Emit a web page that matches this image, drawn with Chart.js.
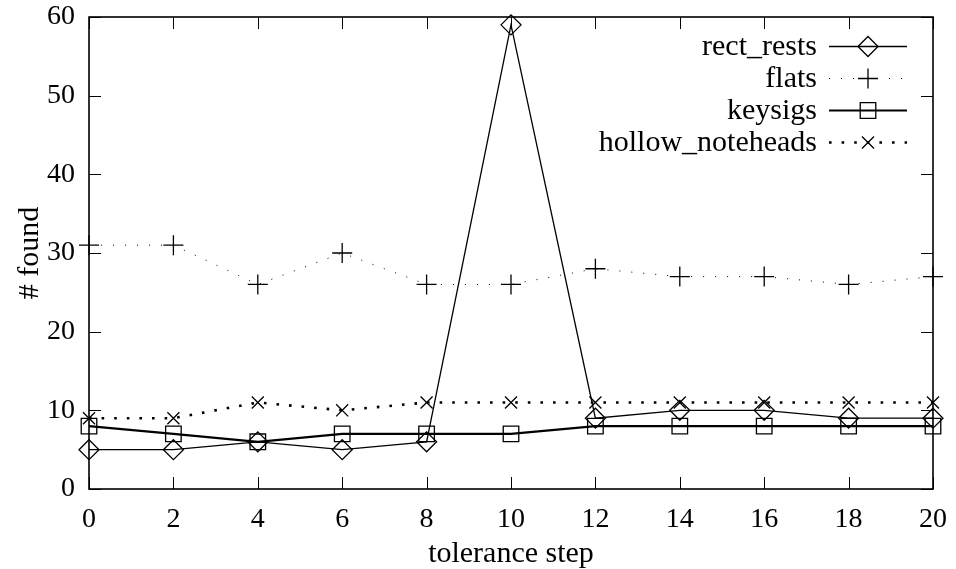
<!DOCTYPE html>
<html>
<head>
<meta charset="utf-8">
<script src="https://cdn.jsdelivr.net/npm/chart.js@4/dist/chart.umd.min.js"></script>
<style>
  html, body { margin: 0; padding: 0; background: #fff; }
  #wrap { width: 956px; height: 569px; }
</style>
</head>
<body>
<div id="wrap"><canvas id="foundChart" width="956" height="569"></canvas></div>
<script>
// tolerance step vs. number of symbols found

const STEPS            = [0, 2, 4, 6, 8, 10, 12, 14, 16, 18, 20];
const RECT_RESTS       = [5, 5, 6, 5, 6, 59, 9, 10, 10, 9, 9];
const FLATS            = [31, 31, 26, 30, 26, 26, 28, 27, 27, 26, 27];
const KEYSIGS          = [8, 7, 6, 7, 7, 7, 8, 8, 8, 8, 8];
const HOLLOW_NOTEHEADS = [9, 9, 11, 10, 11, 11, 11, 11, 11, 11, 11];

const X_TICKS = [0, 2, 4, 6, 8, 10, 12, 14, 16, 18, 20];
const Y_TICKS = [0, 10, 20, 30, 40, 50, 60];

const SERIF = "'Liberation Serif', 'DejaVu Serif', serif";

// line + marker look per series
const STYLES = {
    rect_rests:       { width: 1.3, dash: [],        marker: "rectRot",  radius: 10 },
    flats:            { width: 1,   dash: [1, 11],   marker: "cross",    radius: 10 },
    keysigs:          { width: 2.2, dash: [],        marker: "rect",     radius: 11 },
    hollow_noteheads: { width: 2.6, dash: [2.6, 10], marker: "crossRot", radius: 8.5 },
};

function toPoints(values) {
    return STEPS.map((s, i) => ({ x: s, y: values[i] }));
}

function makeDataset(label, values) {
    const st = STYLES[label];
    return {
        label,
        data:                 toPoints(values),
        borderColor:          "#000",
        backgroundColor:      "transparent",
        borderWidth:          st.width,
        borderDash:           st.dash,
        pointStyle:           st.marker,
        pointRadius:          st.radius,
        pointHoverRadius:     st.radius,
        pointBorderWidth:     1.3,
        pointBorderColor:     "#000",
        pointBackgroundColor: "transparent",
        tension:              0,
        fill:                 false,
        clip:                 false,
    };
}

// box around the plot with inward ticks on every side
const frameTicks = {
    id: "frameTicks",
    afterDatasetsDraw(chart) {
        const { ctx, chartArea: a, scales } = chart;
        const len = 12;
        ctx.save();
        ctx.strokeStyle = "#000";
        ctx.lineWidth = 1;
        ctx.beginPath();
        X_TICKS.forEach(v => {
            const px = Math.round(scales.x.getPixelForValue(v)) + 0.5;
            ctx.moveTo(px, a.bottom); ctx.lineTo(px, a.bottom - len);
            ctx.moveTo(px, a.top);    ctx.lineTo(px, a.top + len);
        });
        Y_TICKS.forEach(v => {
            const py = Math.round(scales.y.getPixelForValue(v)) + 0.5;
            ctx.moveTo(a.left, py);  ctx.lineTo(a.left + len, py);
            ctx.moveTo(a.right, py); ctx.lineTo(a.right - len, py);
        });
        ctx.stroke();
        ctx.lineWidth = 1.6;
        ctx.strokeRect(a.left, a.top, a.right - a.left, a.bottom - a.top);
        ctx.restore();
    }
};

// key in the upper right: text, then a sample of the line with its marker
const sideKey = {
    id: "sideKey",
    afterDraw(chart) {
        const { ctx } = chart;
        const textRight = 817, lineFrom = 829, lineTo = 907, mark = 868;
        const rows = [46, 78, 110, 142];
        ctx.save();
        ctx.font = "30px " + SERIF;
        ctx.textAlign = "right";
        ctx.textBaseline = "middle";
        chart.data.datasets.forEach((ds, i) => {
            const y = rows[i];
            const st = STYLES[ds.label];
            ctx.fillStyle = "#000";
            ctx.fillText(ds.label, textRight, y + 1);
            ctx.strokeStyle = "#000";
            ctx.lineWidth = st.width;
            ctx.setLineDash(st.dash);
            ctx.beginPath();
            ctx.moveTo(lineFrom, y + 0.5);
            ctx.lineTo(lineTo, y + 0.5);
            ctx.stroke();
            ctx.setLineDash([]);
            ctx.lineWidth = 1.3;
            ctx.fillStyle = "rgba(0,0,0,0)";
            Chart.helpers.drawPoint(ctx, {
                pointStyle: st.marker, radius: st.radius, borderWidth: 1.3, rotation: 0
            }, mark, y + 0.5);
        });
        ctx.restore();
    }
};

new Chart(document.getElementById("foundChart"), {
    type: "line",
    data: {
        datasets: [
            makeDataset("rect_rests", RECT_RESTS),
            makeDataset("flats", FLATS),
            makeDataset("keysigs", KEYSIGS),
            makeDataset("hollow_noteheads", HOLLOW_NOTEHEADS),
        ]
    },
    options: {
        responsive:  false,
        animation:   false,
        events:      [],
        layout: { padding: { top: 17, right: 23, left: 0, bottom: 0 } },
        scales: {
            x: {
                type: "linear",
                min: 0, max: 20,
                afterBuildTicks(scale) { scale.ticks = X_TICKS.map(v => ({ value: v })); },
                afterFit(scale) {
                    scale.height = 80;
                    // end labels may overhang; the outer padding covers them
                    scale.paddingLeft = 0;
                    scale.paddingRight = 0;
                },
                grid:   { display: false, drawTicks: false },
                border: { display: false },
                ticks:  { color: "#000", padding: 14, maxRotation: 0, font: { family: SERIF, size: 28 } },
                title:  { display: true, text: "tolerance step", color: "#000", padding: { top: 0, bottom: -3 }, font: { family: SERIF, size: 30 } },
            },
            y: {
                min: 0, max: 60,
                afterBuildTicks(scale) { scale.ticks = Y_TICKS.map(v => ({ value: v })); },
                afterFit(scale) {
                    scale.width = 89;
                    scale.paddingTop = 0;
                    scale.paddingBottom = 0;
                },
                grid:   { display: false, drawTicks: false },
                border: { display: false },
                ticks:  { color: "#000", padding: 14, font: { family: SERIF, size: 28 } },
                title:  { display: true, text: "# found", color: "#000", padding: { top: 12, bottom: 0 }, font: { family: SERIF, size: 30 } },
            },
        },
        plugins: {
            legend:  { display: false },
            tooltip: { enabled: false },
        }
    },
    plugins: [frameTicks, sideKey]
});
</script>
</body>
</html>
